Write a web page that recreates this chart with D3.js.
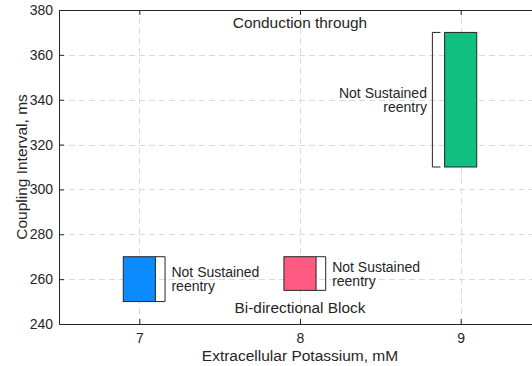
<!DOCTYPE html>
<html>
<head>
<meta charset="utf-8">
<script src="https://cdn.jsdelivr.net/npm/d3@7"></script>
<style>
  body { margin: 0; background: #fff; }
  text { font-family: "Liberation Sans", Arial, Helvetica, sans-serif; fill: #262626; }
</style>
</head>
<body>
<div id="svganchor"></div>
<script>
// data
let potassium = [7, 8, 9];
let ciLow = [250, 255, 310];
let ciHigh = [270, 270, 370];
let barColors = ["#0b8bff", "#fe5b82", "#10bf82"];
let bracketSide = ["right", "right", "left"];
let outcomeLines = ["Not Sustained", "reentry"];
let xTicks = [7, 8, 9];
let yTicks = [240, 260, 280, 300, 320, 340, 360, 380];
let notes = [
  { text: "Conduction through", k: 8, ci: 372 },
  { text: "Bi-directional Block", k: 8, ci: 245 }
];

let width = 532;
let height = 366;
let margin = { top: 10, right: -9, bottom: 42, left: 59 };
let ink = "#262626";

let svg = d3.select("#svganchor").append("svg").attr("width", width).attr("height", height);

let xScale = d3.scaleLinear().domain([6.5, 9.5]).range([margin.left, width - margin.right]);
let yScale = d3.scaleLinear().domain([240, 380]).range([height - margin.bottom, margin.top]);

let x0 = xScale.range()[0], x1 = xScale.range()[1];
let y0 = yScale.range()[0], y1 = yScale.range()[1];

// grid
let grid = svg.append("g").attr("stroke", "#dadada").attr("stroke-dasharray", "6,4").attr("stroke-width", 1);
grid.selectAll(".hgrid").data(yTicks.slice(1, -1)).enter().append("line")
  .attr("x1", x0).attr("x2", x1)
  .attr("y1", d => Math.round(yScale(d)) + 0.5).attr("y2", d => Math.round(yScale(d)) + 0.5);
grid.selectAll(".vgrid").data(xTicks).enter().append("line")
  .attr("y1", y0).attr("y2", y1)
  .attr("x1", d => Math.round(xScale(d)) + 0.5).attr("x2", d => Math.round(xScale(d)) + 0.5);

// bars
let half = 0.1;
svg.selectAll(".bar").data(potassium).enter().append("rect")
  .attr("class", "bar")
  .attr("x", d => xScale(d - half))
  .attr("width", d => xScale(d + half) - xScale(d - half))
  .attr("y", (d, i) => yScale(ciHigh[i]))
  .attr("height", (d, i) => yScale(ciLow[i]) - yScale(ciHigh[i]))
  .attr("fill", (d, i) => barColors[i])
  .attr("stroke", ink)
  .attr("stroke-width", 1);

// brackets next to the bars
svg.selectAll(".bracket").data(potassium).enter().append("path")
  .attr("class", "bracket")
  .attr("fill", "none")
  .attr("stroke", ink)
  .attr("stroke-width", 1)
  .attr("d", function (d, i) {
    let top = yScale(ciHigh[i]), bot = yScale(ciLow[i]);
    let inner, outer;
    if (bracketSide[i] === "right") {
      inner = xScale(d + half); outer = xScale(d + 0.16);
    } else {
      inner = xScale(d - 0.126); outer = xScale(d - 0.176);
    }
    return `M${inner},${top}H${outer}V${bot}H${inner}`;
  });

// outcome labels
potassium.forEach(function (k, i) {
  let mid = yScale((ciLow[i] + ciHigh[i]) / 2);
  let right = bracketSide[i] === "right";
  let lx = right ? xScale(k + 0.2) : xScale(k - 0.21);
  let t = svg.append("text")
    .attr("x", lx)
    .attr("text-anchor", right ? "start" : "end")
    .attr("font-size", 14);
  outcomeLines.forEach(function (line, j) {
    t.append("tspan")
      .attr("x", lx)
      .attr("y", mid - 2 + j * 14)
      .text(line);
  });
});

// notes
svg.selectAll(".note").data(notes).enter().append("text")
  .attr("class", "note")
  .attr("x", d => xScale(d.k))
  .attr("y", d => yScale(d.ci))
  .attr("text-anchor", "middle")
  .attr("font-size", 15.4)
  .text(d => d.text);

// axes (box with inward ticks)
let tickLen = 5;
let xAxis = d3.axisBottom(xScale).tickValues(xTicks).tickFormat(d3.format("d"))
  .tickSizeInner(-tickLen).tickSizeOuter(0).tickPadding(9);
let yAxis = d3.axisLeft(yScale).tickValues(yTicks).tickFormat(d3.format("d"))
  .tickSizeInner(-tickLen).tickSizeOuter(0).tickPadding(6);
let xTop = d3.axisTop(xScale).tickValues(xTicks).tickSizeInner(-tickLen).tickSizeOuter(0).tickFormat("");
let yRight = d3.axisRight(yScale).tickValues(yTicks).tickSizeInner(-tickLen).tickSizeOuter(0).tickFormat("");

svg.append("g").attr("class", "x axis").attr("transform", `translate(0,${y0})`).call(xAxis);
svg.append("g").attr("class", "y axis").attr("transform", `translate(${x0},0)`).call(yAxis);
svg.append("g").attr("class", "axis").attr("transform", `translate(0,${y1})`).call(xTop);
svg.append("g").attr("class", "axis").attr("transform", `translate(${x1},0)`).call(yRight);

svg.selectAll(".axis path, .axis line").attr("stroke", ink).attr("stroke-width", 1);
svg.selectAll(".axis text").attr("font-size", 14).attr("fill", ink)
  .style("font-family", '"Liberation Sans", Arial, Helvetica, sans-serif');

// axis labels
svg.append("text")
  .attr("x", xScale(8))
  .attr("y", 361)
  .attr("text-anchor", "middle")
  .attr("font-size", 15.5)
  .text("Extracellular Potassium, mM");

svg.append("text")
  .attr("transform", `translate(27,${(y0 + y1) / 2}) rotate(-90)`)
  .attr("text-anchor", "middle")
  .attr("font-size", 15.5)
  .text("Coupling Interval, ms");
</script>
</body>
</html>
